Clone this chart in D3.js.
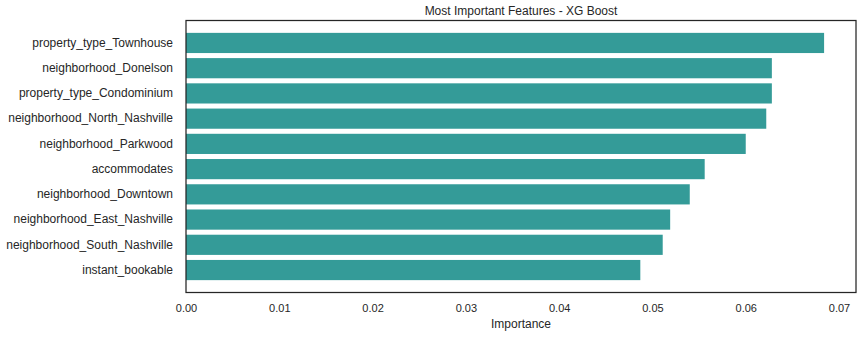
<!DOCTYPE html>
<html>
<head>
<meta charset="utf-8">
<script src="https://cdn.jsdelivr.net/npm/d3@7"></script>
<style>
  body { margin: 0; background: #fff; }
  text { font-family: "Liberation Sans", Arial, sans-serif; fill: #262626; }
</style>
</head>
<body>
<div class="chart"></div>
<script>
// data, top bar first
const features = [
    "property_type_Townhouse",
    "neighborhood_Donelson",
    "property_type_Condominium",
    "neighborhood_North_Nashville",
    "neighborhood_Parkwood",
    "accommodates",
    "neighborhood_Downtown",
    "neighborhood_East_Nashville",
    "neighborhood_South_Nashville",
    "instant_bookable"
];
const importance = [0.0684, 0.0628, 0.0628, 0.0622, 0.0600, 0.0556, 0.0540, 0.0519, 0.0511, 0.0487];
const xTicks = [0, 0.01, 0.02, 0.03, 0.04, 0.05, 0.06, 0.07];

const w = 863;
const h = 337;
const plotL = 186, plotR = 856, plotT = 20.5, plotB = 292.5;

const svg = d3.select(".chart")
              .append("svg")
              .attr("width", w)
              .attr("height", h);

// matplotlib style x range: 5% margin past the biggest bar
const xMax = d3.max(importance) * 1.05;
const xScale = d3.scaleLinear()
                 .domain([0, xMax])
                 .range([plotL, plotR]);

// bar positions in data units, 0.8 high, 5% margins like barh
const n = features.length;
const yScale = d3.scaleLinear()
                 .domain([-0.4 - 0.49, n - 1 + 0.4 + 0.49])
                 .range([plotT, plotB]);

const rows = features.map((f, i) => ({name: f, value: importance[i], pos: i}));

svg.append("g").selectAll("rect")
   .data(rows)
   .enter()
   .append("rect")
   .attr("x", xScale(0))
   .attr("y", d => yScale(d.pos - 0.4))
   .attr("width", d => xScale(d.value) - xScale(0))
   .attr("height", d => yScale(d.pos + 0.4) - yScale(d.pos - 0.4))
   .attr("fill", "#349b98");

// y labels
const yAxis = d3.axisLeft(d3.scaleBand().domain(features).range([plotT, plotB]))
                .tickSize(0)
                .tickPadding(13);
const yG = svg.append("g")
              .attr("transform", `translate(${plotL},0)`)
              .call(yAxis);
yG.select(".domain").remove();
yG.selectAll(".tick")
  .attr("transform", (d, i) => `translate(0,${yScale(i)})`);
yG.selectAll("text")
  .style("font-size", "12px")
  .style("font-family", "'Liberation Sans', Arial, sans-serif")
  .attr("fill", "#262626");

// x axis
const xAxis = d3.axisBottom(xScale)
                .tickValues(xTicks)
                .tickFormat(d3.format(".2f"))
                .tickSize(0)
                .tickPadding(12);
const xG = svg.append("g")
              .attr("transform", `translate(0,${plotB})`)
              .call(xAxis);
xG.select(".domain").remove();
xG.selectAll("text")
  .style("font-size", "11px")
  .style("font-family", "'Liberation Sans', Arial, sans-serif")
  .attr("fill", "#262626");

// frame
svg.append("rect")
   .attr("x", plotL)
   .attr("y", plotT)
   .attr("width", plotR - plotL)
   .attr("height", plotB - plotT)
   .attr("fill", "none")
   .attr("stroke", "#262626")
   .attr("stroke-width", 1.25);

// title and x label
svg.append("text")
   .attr("x", (plotL + plotR) / 2)
   .attr("y", 15)
   .attr("text-anchor", "middle")
   .style("font-size", "12px")
   .text("Most Important Features - XG Boost");

svg.append("text")
   .attr("x", (plotL + plotR) / 2)
   .attr("y", 328)
   .attr("text-anchor", "middle")
   .style("font-size", "12px")
   .text("Importance");
</script>
</body>
</html>
